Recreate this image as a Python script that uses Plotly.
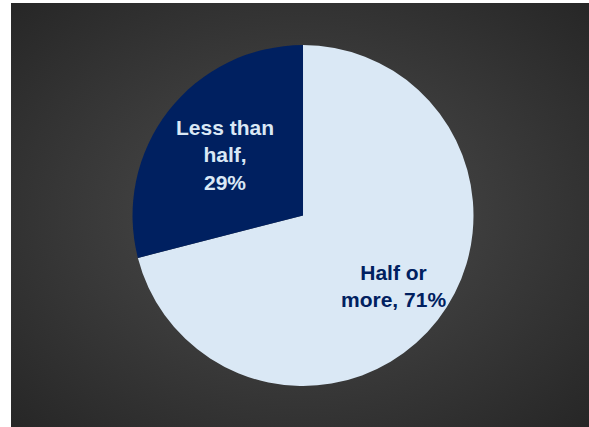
import base64
import math
import plotly.graph_objects as go

labels = ["Half or more", "Less than half"]
values = [71, 29]
slice_text = ["<b>Half or<br>more, 71%</b>", "<b>Less than<br>half,<br>29%</b>"]
slice_colors = ["#DAE8F5", "#002060"]
text_colors = ["#002060", "#DAE8F5"]
label_radius = [0.67, 0.58]  # fraction of pie radius where each label sits

W, H = 589, 427
dom_x = [0.2250, 0.8039]
dom_y = [0.0960, 0.8946]

svg = """<svg xmlns='http://www.w3.org/2000/svg' width='578' height='424' preserveAspectRatio='none'>
<defs><radialGradient id='g' cx='50%' cy='50%' r='75%'>
<stop offset='0%' stop-color='#4e4e4e'/><stop offset='100%' stop-color='#242424'/>
</radialGradient></defs><rect width='578' height='424' fill='url(#g)'/></svg>"""
bg_uri = "data:image/svg+xml;base64," + base64.b64encode(svg.encode()).decode()

fig = go.Figure(go.Pie(
    labels=labels,
    values=values,
    textinfo="none",
    sort=False,
    direction="clockwise",
    rotation=0,
    marker=dict(colors=slice_colors, line=dict(width=0)),
    domain=dict(x=dom_x, y=dom_y),
    showlegend=False,
    hoverinfo="label+percent",
))

# label positions derived from slice mid-angles
cx = (dom_x[0] + dom_x[1]) / 2
cy = (dom_y[0] + dom_y[1]) / 2
r_px = min((dom_x[1] - dom_x[0]) * W, (dom_y[1] - dom_y[0]) * H) / 2
total = sum(values)
cum = 0
annotations = []
for lab, v, tc, rf in zip(slice_text, values, text_colors, label_radius):
    mid = (cum + v / 2) / total * 2 * math.pi
    cum += v
    dx = rf * r_px * math.sin(mid) / W
    dy = rf * r_px * math.cos(mid) / H
    annotations.append(dict(
        x=cx + dx, y=cy + dy, xref="paper", yref="paper",
        text=lab, showarrow=False, align="center",
        xanchor="center", yanchor="middle",
        font=dict(family="Liberation Sans, Arial, sans-serif", size=21, color=tc),
    ))

fig.update_layout(
    width=W, height=H,
    autosize=False,
    margin=dict(l=0, r=0, t=0, b=0, pad=0),
    paper_bgcolor="white",
    plot_bgcolor="rgba(0,0,0,0)",
    font=dict(family="Liberation Sans, Arial, sans-serif"),
    annotations=annotations,
    images=[dict(source=bg_uri, xref="paper", yref="paper", x=11/W, y=1-3/H,
                 sizex=1-11/W, sizey=1-3/H, sizing="stretch", xanchor="left", yanchor="top",
                 layer="below")],
)

fig.write_html("out.html", config={"displayModeBar": False},
               post_script="document.body.style.margin='0px';")
